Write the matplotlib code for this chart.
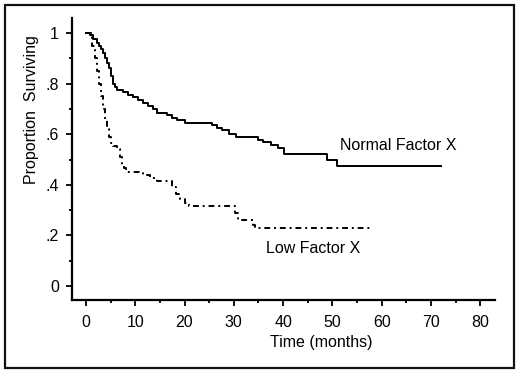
import matplotlib
matplotlib.use("Agg")
import matplotlib.pyplot as plt
from matplotlib.patches import Rectangle

plt.rcParams['font.family'] = ['Liberation Sans', 'DejaVu Sans']

# Kaplan-Meier step data (months, proportion surviving)
normal_t = [0, 0.8, 1.5, 2.2, 2.6, 3.0, 3.4, 3.8, 4.2, 4.6, 5.0, 5.4, 5.8, 6.3,
            7.5, 8.5, 9.5, 10.5, 11.5, 12.5, 13.5, 14.5, 16.5, 17.5, 18.5, 20.0,
            25.5, 26.5, 27.5, 29.0, 30.5, 35.0, 36.0, 37.5, 39.0, 40.2, 49.0,
            51.0, 72.0]
normal_s = [1.0, 0.99, 0.975, 0.96, 0.95, 0.935, 0.92, 0.90, 0.88, 0.86, 0.83,
            0.80, 0.785, 0.775, 0.765, 0.755, 0.745, 0.735, 0.725, 0.71, 0.70,
            0.685, 0.675, 0.665, 0.655, 0.645, 0.635, 0.625, 0.615, 0.60, 0.59,
            0.578, 0.57, 0.557, 0.545, 0.52, 0.50, 0.474, 0.474]

low_t = [0, 1.2, 1.8, 2.2, 2.6, 3.0, 3.4, 3.8, 4.2, 4.6, 5.0, 5.5, 6.2, 6.9,
         7.3, 7.7, 8.2, 11.5, 13.0, 14.5, 17.5, 18.2, 19.0, 20.0, 21.0, 30.3,
         30.8, 33.8, 34.3, 58.0]
low_s = [1.0, 0.95, 0.90, 0.85, 0.80, 0.75, 0.70, 0.66, 0.62, 0.59, 0.565,
         0.555, 0.54, 0.51, 0.48, 0.465, 0.45, 0.44, 0.425, 0.415, 0.39, 0.365,
         0.345, 0.33, 0.316, 0.29, 0.26, 0.24, 0.23, 0.23]

x_ticks = [0, 10, 20, 30, 40, 50, 60, 70, 80]
y_ticks = [0, 0.2, 0.4, 0.6, 0.8, 1.0]
y_labels = ['0', '.2', '.4', '.6', '.8', '1']

W, H = 520, 373
fig = plt.figure(figsize=(5.2, 3.73), dpi=100)
ax = fig.add_axes([72 / W, 1 - 300 / H, (495 - 72) / W, (300 - 18) / H])

ax.step(normal_t, normal_s, where='post', color='black', lw=1.4)
ax.step(low_t, low_s, where='post', color='black', lw=1.4,
        linestyle=(0, (3, 2, 1, 2)))

ax.set_xlim(-2.84, 83)
ax.set_ylim(-0.055, 1.059)
ax.spines['top'].set_visible(False)
ax.spines['right'].set_visible(False)
for s in ('left', 'bottom'):
    ax.spines[s].set_linewidth(1.6)

ax.set_xticks(x_ticks)
ax.set_xticks([5, 15, 25, 35, 45, 55, 65, 75], minor=True)
ax.set_yticks(y_ticks)
ax.set_yticklabels(y_labels)
ax.set_yticks([0.1, 0.3, 0.5, 0.7, 0.9], minor=True)
ax.tick_params(which='major', length=4.5, width=1.3, labelsize=11.5, direction='out')
ax.tick_params(which='minor', length=2.5, width=1.3, direction='out')
ax.tick_params(axis='x', which='major', pad=6)
ax.tick_params(axis='y', which='major', pad=5)

ax.text(51.5, 0.555, 'Normal Factor X', fontsize=11.5, va='center', ha='left')
ax.text(36.5, 0.15, 'Low Factor X', fontsize=11.5, va='center', ha='left')

fig.text(321 / W, 1 - 343 / H, 'Time (months)', fontsize=11.5, ha='center', va='center')
fig.text(32 / W, 1 - 110 / H, 'Proportion  Surviving', fontsize=11.5,
         rotation=90, ha='center', va='center')

fig.add_artist(Rectangle((5 / W, 5 / H), (514 - 5) / W, (368 - 5) / H,
                         transform=fig.transFigure, fill=False,
                         edgecolor='#111111', lw=1.6))

fig.savefig('out.png', dpi=100)
